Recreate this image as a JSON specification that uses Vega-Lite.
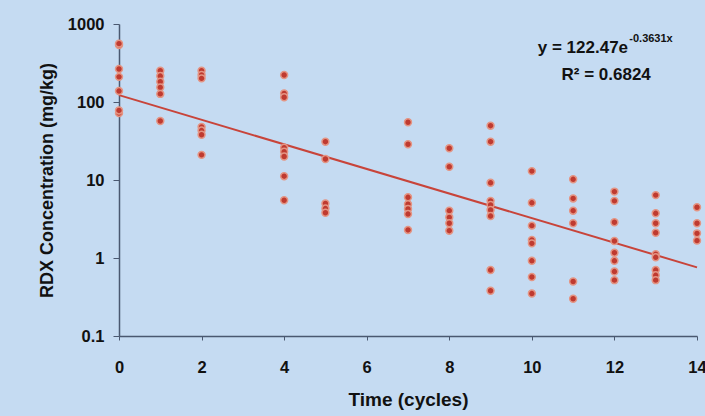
{
  "$schema": "https://vega.github.io/schema/vega-lite/v6.json",
  "width": 578,
  "height": 312,
  "autosize": {"type": "none"},
  "padding": {"left": 119, "top": 24, "right": 8, "bottom": 80},
  "background": "#c5dbf2",
  "config": {
    "view": {"stroke": null},
    "font": "Liberation Sans",
    "axis": {"grid": false, "domainColor": "#4a5870", "tickColor": "#4a5870", "domainWidth": 1.5, "labelColor": "#111111", "titleColor": "#111111", "labelFont": "Liberation Sans", "titleFont": "Liberation Sans", "labelFontWeight": "bold", "titleFontWeight": "bold", "labelFontSize": 16.5, "titleFontSize": 18, "labelFlush": false, "labelOverlap": false}
  },
  "datasets": {
    "obs": [
      {"t": 0, "rdx": 538}, {"t": 0, "rdx": 560}, {"t": 0, "rdx": 265}, {"t": 0, "rdx": 210}, {"t": 0, "rdx": 138}, {"t": 0, "rdx": 72}, {"t": 0, "rdx": 78},
      {"t": 1, "rdx": 252}, {"t": 1, "rdx": 215}, {"t": 1, "rdx": 182}, {"t": 1, "rdx": 154}, {"t": 1, "rdx": 127}, {"t": 1, "rdx": 57},
      {"t": 2, "rdx": 252}, {"t": 2, "rdx": 222}, {"t": 2, "rdx": 201}, {"t": 2, "rdx": 48}, {"t": 2, "rdx": 43}, {"t": 2, "rdx": 38}, {"t": 2, "rdx": 21},
      {"t": 4, "rdx": 222}, {"t": 4, "rdx": 129}, {"t": 4, "rdx": 115}, {"t": 4, "rdx": 26}, {"t": 4, "rdx": 23}, {"t": 4, "rdx": 20}, {"t": 4, "rdx": 11.2}, {"t": 4, "rdx": 5.5},
      {"t": 5, "rdx": 31}, {"t": 5, "rdx": 18.6}, {"t": 5, "rdx": 5.0}, {"t": 5, "rdx": 4.3}, {"t": 5, "rdx": 3.8},
      {"t": 7, "rdx": 55}, {"t": 7, "rdx": 28.7}, {"t": 7, "rdx": 6.0}, {"t": 7, "rdx": 4.9}, {"t": 7, "rdx": 4.25}, {"t": 7, "rdx": 3.66}, {"t": 7, "rdx": 2.29},
      {"t": 8, "rdx": 25.5}, {"t": 8, "rdx": 14.8}, {"t": 8, "rdx": 4.04}, {"t": 8, "rdx": 3.32}, {"t": 8, "rdx": 2.79}, {"t": 8, "rdx": 2.24},
      {"t": 9, "rdx": 49.7}, {"t": 9, "rdx": 31}, {"t": 9, "rdx": 9.2}, {"t": 9, "rdx": 5.4}, {"t": 9, "rdx": 4.78}, {"t": 9, "rdx": 4.12}, {"t": 9, "rdx": 3.45}, {"t": 9, "rdx": 0.70}, {"t": 9, "rdx": 0.38},
      {"t": 10, "rdx": 13.0}, {"t": 10, "rdx": 5.1}, {"t": 10, "rdx": 2.6}, {"t": 10, "rdx": 1.70}, {"t": 10, "rdx": 1.54}, {"t": 10, "rdx": 0.92}, {"t": 10, "rdx": 0.57}, {"t": 10, "rdx": 0.35},
      {"t": 11, "rdx": 10.2}, {"t": 11, "rdx": 5.8}, {"t": 11, "rdx": 4.04}, {"t": 11, "rdx": 2.79}, {"t": 11, "rdx": 0.50}, {"t": 11, "rdx": 0.30},
      {"t": 12, "rdx": 7.1}, {"t": 12, "rdx": 5.4}, {"t": 12, "rdx": 2.87}, {"t": 12, "rdx": 1.65}, {"t": 12, "rdx": 1.17}, {"t": 12, "rdx": 0.92}, {"t": 12, "rdx": 0.67}, {"t": 12, "rdx": 0.52},
      {"t": 13, "rdx": 6.4}, {"t": 13, "rdx": 3.74}, {"t": 13, "rdx": 2.79}, {"t": 13, "rdx": 2.11}, {"t": 13, "rdx": 1.12}, {"t": 13, "rdx": 1.02}, {"t": 13, "rdx": 0.70}, {"t": 13, "rdx": 0.60}, {"t": 13, "rdx": 0.52},
      {"t": 14, "rdx": 4.47}, {"t": 14, "rdx": 2.79}, {"t": 14, "rdx": 2.07}, {"t": 14, "rdx": 1.67}
    ],
    "fit": [
      {"t": 0, "rdx": 122.47},
      {"t": 14, "rdx": 0.759}
    ],
    "one": [{}]
  },
  "layer": [
    {
      "data": {"name": "fit"},
      "mark": {"type": "line", "color": "#c8443a", "strokeWidth": 2},
      "encoding": {
        "x": {"field": "t", "type": "quantitative", "scale": {"domain": [0, 14], "nice": false, "zero": false}, "axis": {"values": [0, 2, 4, 6, 8, 10, 12, 14], "title": "Time (cycles)", "titleFontSize": 19, "tickSize": 4, "labelPadding": 19, "titlePadding": 15}},
        "y": {"field": "rdx", "type": "quantitative", "scale": {"type": "log", "domain": [0.1, 1000], "nice": false}, "axis": {"values": [0.1, 1, 10, 100, 1000], "format": "~g", "title": "RDX Concentration (mg/kg)", "tickSize": 6, "labelPadding": 9, "titlePadding": 11}}
      }
    },
    {
      "data": {"name": "obs"},
      "mark": {"type": "point", "filled": true, "color": "#bf3a30", "size": 48, "opacity": 1, "stroke": "#e49584", "strokeWidth": 1.5},
      "encoding": {
        "x": {"field": "t", "type": "quantitative"},
        "y": {"field": "rdx", "type": "quantitative"}
      }
    },
    {
      "data": {"name": "one"},
      "mark": {"type": "text", "text": "y = 122.47e", "align": "right", "baseline": "middle", "fontSize": 17, "fontWeight": "bold", "color": "#111111"},
      "encoding": {"x": {"datum": 12.33}, "y": {"datum": 492}}
    },
    {
      "data": {"name": "one"},
      "mark": {"type": "text", "text": "-0.3631x", "align": "left", "baseline": "middle", "fontSize": 11, "fontWeight": "bold", "color": "#111111"},
      "encoding": {"x": {"datum": 12.36}, "y": {"datum": 643}}
    },
    {
      "data": {"name": "one"},
      "mark": {"type": "text", "text": "R² = 0.6824", "align": "center", "baseline": "middle", "fontSize": 17, "fontWeight": "bold", "color": "#111111"},
      "encoding": {"x": {"datum": 11.8}, "y": {"datum": 222}}
    }
  ]
}
